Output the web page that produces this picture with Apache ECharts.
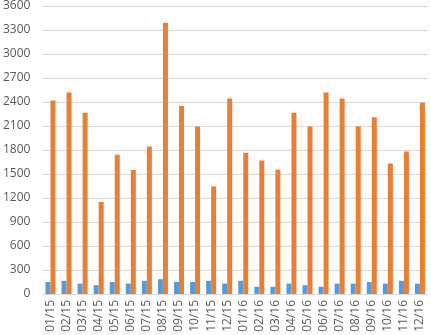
<!DOCTYPE html>
<html>
<head>
<meta charset="utf-8">
<script src="https://cdn.jsdelivr.net/npm/echarts@6/dist/echarts.min.js"></script>
<style>
  html, body { margin: 0; padding: 0; background: #fff; }
  #chart { width: 431px; height: 335px; }
</style>
</head>
<body>
<div id="chart"></div>
<script>
// 月份
var months = ['01/15', '02/15', '03/15', '04/15', '05/15', '06/15', '07/15', '08/15', '09/15', '10/15', '11/15', '12/15',
              '01/16', '02/16', '03/16', '04/16', '05/16', '06/16', '07/16', '08/16', '09/16', '10/16', '11/16', '12/16'];
// 蓝色系列
var blueVals = [150, 165, 130, 110, 150, 130, 165, 185, 150, 150, 165, 130,
                165, 90, 90, 130, 110, 90, 130, 130, 150, 130, 165, 130];
// 橙色系列
var orangeVals = [2420, 2520, 2265, 1150, 1740, 1550, 1845, 3390, 2350, 2095, 1345, 2445,
                  1765, 1670, 1555, 2265, 2095, 2520, 2445, 2095, 2210, 1630, 1780, 2390];

var chart = echarts.init(document.getElementById('chart'));
var opt = {
    animation: false,
    grid: { left: 42, right: 3, top: 5, bottom: 41 },
    xAxis: {
        type: 'category',
        data: months,
        axisLine: { lineStyle: { color: '#d9d9d9' } },
        axisTick: { show: false },
        axisLabel: {
            rotate: 90,
            interval: 0,
            color: '#595959',
            fontSize: 12,
            fontFamily: 'Open Sans',
            margin: 6
        }
    },
    yAxis: {
        type: 'value',
        min: 0,
        max: 3600,
        interval: 300,
        axisLine: { show: false },
        axisTick: { show: false },
        splitLine: { lineStyle: { color: '#d9d9d9' } },
        axisLabel: {
            color: '#595959',
            fontSize: 12,
            fontFamily: 'Open Sans',
            margin: 12,
            formatter: function (v) { return String(v); }
        }
    },
    series: [
        { name: 'A', type: 'bar', data: blueVals, barWidth: 5, barGap: '0%', itemStyle: { color: '#5b9bd5' } },
        { name: 'B', type: 'bar', data: orangeVals, barWidth: 5, itemStyle: { color: '#ed7d31' } }
    ]
};
chart.setOption(opt);
</script>
</body>
</html>
